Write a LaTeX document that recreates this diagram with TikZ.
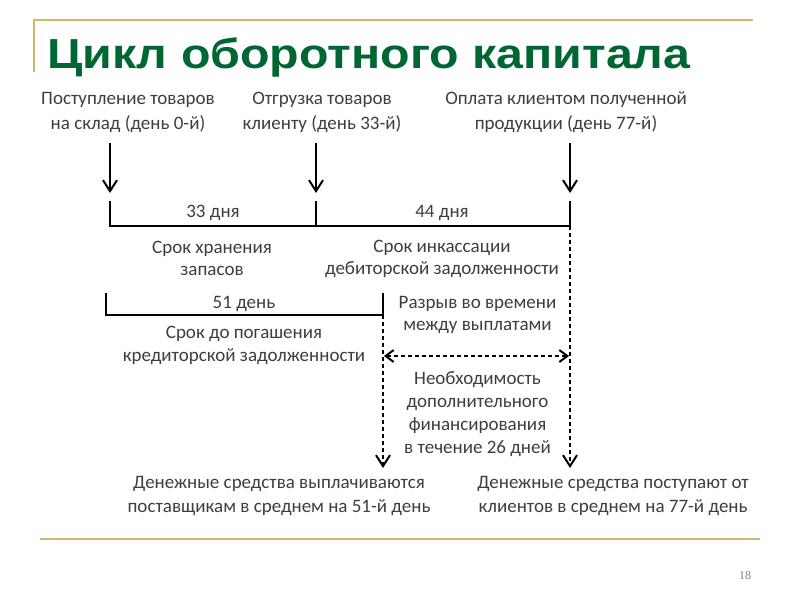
\documentclass[tikz,border=0pt]{standalone}
\usepackage{fontspec}
\setmainfont{Carlito}
\newfontfamily\titlefont{Liberation Sans}
\newfontfamily\pagefont{Liberation Serif}
\usetikzlibrary{arrows.meta}
\definecolor{gold}{RGB}{214,182,104}
\definecolor{titlegreen}{RGB}{0,102,51}
\definecolor{txt}{RGB}{62,62,62}
\begin{document}
\begin{tikzpicture}[x=1pt,y=-1pt,
  lbl/.style={text=txt, font=\fontsize{19}{23}\selectfont, align=center, inner sep=0pt},
  lsp/.style={font=\fontsize{19}{#1}\selectfont},
  tl/.style={line width=2pt, black},
  dsh/.style={line width=2pt, black, dash pattern=on 4pt off 3pt},
  tipv/.style={-{Straight Barb[length=11pt,width=14pt,line width=2pt]}},
  tipboth/.style={{Straight Barb[length=8pt,width=12pt,line width=2pt]}-{Straight Barb[length=8pt,width=12pt,line width=2pt]}}
]
\fill[white] (0,0) rectangle (800,600);
\useasboundingbox (0,0) rectangle (800,600);

% frame lines
\draw[gold, line width=2pt] (34,72) -- (34,20) -- (753,20);
\draw[gold, line width=2.5pt] (40,539) -- (760,539);

% title
\node[anchor=base west, inner sep=0pt, text=titlegreen, xscale=1.15,
      font=\titlefont\bfseries\fontsize{42}{50}\selectfont] (title) at (47,68) {Цикл оборотного капитала};

% top labels
\node[lbl,lsp=25] (l1) at (128,112.5) {Поступление товаров\\на склад (день 0-й)};
\node[lbl,lsp=25] (l2) at (322,112.5) {Отгрузка товаров\\клиенту (день 33-й)};
\node[lbl,lsp=25] (l3) at (566,112.5) {Оплата клиентом полученной\\продукции (день 77-й)};

% arrow coordinates
\coordinate (a1s) at (110,143); \coordinate (a1e) at (110,193);
\coordinate (a2s) at (316,143); \coordinate (a2e) at (316,193);
\coordinate (a3s) at (570,143); \coordinate (a3e) at (570,193);
\draw[tl,tipv] (a1s) -- (a1e);
\draw[tl,tipv] (a2s) -- (a2e);
\draw[tl,tipv] (a3s) -- (a3e);

% timeline 1
\coordinate (t0top) at (110,201); \coordinate (t0) at (110,226);
\coordinate (t33top) at (316,201); \coordinate (t33) at (316,226);
\coordinate (t77top) at (570,201); \coordinate (t77) at (570,226);
\draw[tl] (t0top) -- (t0) -- (t77) -- (t77top);
\draw[tl] (t33top) -- (t33);
\node[lbl] (d33) at (213,213) {33 дня};
\node[lbl] (d44) at (442,213) {44 дня};
\node[lbl,lsp=22] (s1) at (212,258) {Срок хранения\\запасов};
\node[lbl,lsp=22] (s2) at (442,259) {Срок инкассации\\дебиторской задолженности};

% timeline 2
\coordinate (p0top) at (106,293); \coordinate (p0) at (106,315);
\coordinate (p51top) at (383,293); \coordinate (p51) at (383,315);
\draw[tl] (p0top) -- (p0) -- (p51) -- (p51top);
\node[lbl] (d51) at (244,304) {51 день};
\node[lbl,lsp=23] (s3) at (244,345.5) {Срок до погашения\\кредиторской задолженности};
\node[lbl,lsp=22] (gap) at (477.5,315) {Разрыв во времени\\между выплатами};

% dashed lines
\coordinate (e51) at (383,468); \coordinate (e77) at (570,468);
\draw[dsh,tipv] (p51) -- (e51);
\draw[dsh,tipv] (t77) -- (e77);
\coordinate (g1) at (384,356); \coordinate (g2) at (569,356);
\draw[dsh,tipboth] (g1) -- (g2);
\node[lbl,lsp=23] (need) at (477.5,414.5) {Необходимость\\дополнительного\\финансирования\\в течение 26 дней};

% bottom labels
\node[lbl,lsp=24] (b1) at (279,496) {Денежные средства выплачиваются\\поставщикам в среднем на 51-й день};
\node[lbl,lsp=24] (b2) at (613,496) {Денежные средства поступают от\\клиентов в среднем на 77-й день};

% page number
\node[inner sep=0pt, text=gray, font=\pagefont\fontsize{12}{14}\selectfont] (pg) at (745,576) {18};
\end{tikzpicture}
\end{document}
